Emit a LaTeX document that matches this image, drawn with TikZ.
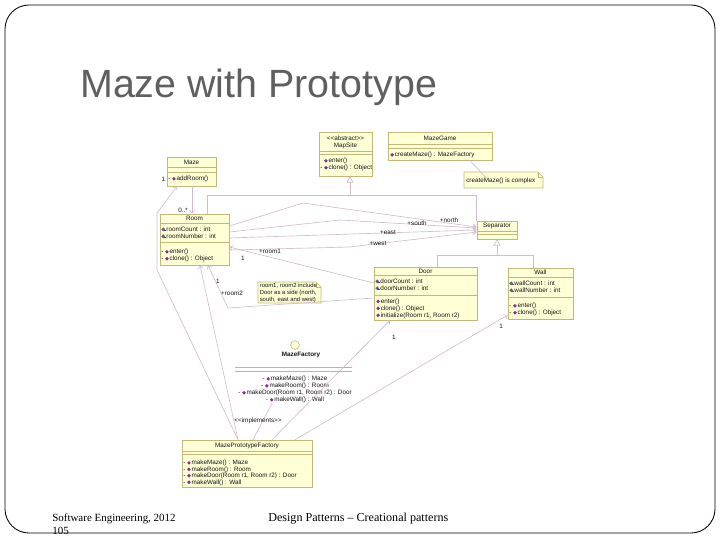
\documentclass[tikz,border=0pt]{standalone}
\usepackage{fontspec}
\setmainfont{Liberation Serif}
\newfontfamily\umlfont{Liberation Sans}
\usetikzlibrary{arrows.meta,positioning,fit}
\definecolor{ClsFill}{HTML}{FFFFD6}
\definecolor{ClsLine}{HTML}{C4B878}
\definecolor{Wire}{HTML}{D2BCCB}
\definecolor{OpPurple}{HTML}{8E2A8E}
\definecolor{AttBlue}{HTML}{4A6A9A}
\definecolor{Ink}{HTML}{141414}
\definecolor{TitleGray}{HTML}{5F5F5F}
\newcommand{\umlsz}{\fontsize{4.5}{4.96}\selectfont}
\newcommand{\opi}{\tikz[baseline=0pt,x=1pt,y=1pt]{\fill[OpPurple] (0,1.3) -- (1.3,2.6) -- (2.6,1.3) -- (1.3,0) -- cycle;}\hspace{0.6pt}}
\newcommand{\ati}{\tikz[baseline=0pt,x=1pt,y=1pt]{\fill[AttBlue] (0,1.4) -- (1.4,2.8) -- (2.8,1.4) -- (1.4,0) -- cycle;
  \fill[OpPurple] (1.8,0.1) rectangle (3.1,1.1);}\hspace{0.6pt}}

\begin{document}
\begin{tikzpicture}[x=0.025cm,y=-0.025cm,
  cls/.style={draw=ClsLine,fill=ClsFill,inner sep=0pt,line width=0.4pt},
  sep/.style={ClsLine,line width=0.4pt},
  txt/.style={font=\umlfont\umlsz,inner sep=0pt,anchor=west,align=left,text=Ink},
  nm/.style={txt,anchor=center,align=center},
  lbl/.style={txt,anchor=center},
  wire/.style={Wire,line width=0.45pt},
  nav/.style={wire,-{Straight Barb[length=2.2pt,width=3.6pt]}},
  gen/.style={wire,-{Triangle[open,length=4.5pt,width=5pt,fill=white]}}]
  \useasboundingbox (0,0) rectangle (720,540);
  \fill[white] (0,0) rectangle (720,540);

  % slide title and footer
  \node[font=\umlfont\fontsize{28}{32}\selectfont,text=TitleGray,anchor=base west,inner sep=0pt]
    (title) at (80,97) {Maze with Prototype};
  \node[font=\fontsize{7.8}{10}\selectfont,anchor=base west,inner sep=0pt] (footA) at (52,521) {Software Engineering, 2012};
  \node[font=\fontsize{7.8}{10}\selectfont,anchor=base west,inner sep=0pt] (footB) at (52,534) {105};
  \node[font=\fontsize{8.6}{10}\selectfont,anchor=base west,inner sep=0pt] (footC) at (268,521) {Design Patterns -- Creational patterns};
  \draw[black,line width=0.6pt,rounded corners=0.6cm] (5,5) rectangle (715,533);

  % classes
  \node[cls,fit={(167,157)(216,186)}] (maze) {};
  \draw[sep] (maze.west |- 0,167) -- (maze.east |- 0,167) (maze.west |- 0,172) -- (maze.east |- 0,172);
  \node[nm] (mazeN) at (191.5,162) {Maze};
  \node[txt] (mazeM) at (168,179) {- \opi addRoom()};

  \node[cls,fit={(160,214)(229,265)}] (room) {};
  \draw[sep] (room.west |- 0,223) -- (room.east |- 0,223) (room.west |- 0,242) -- (room.east |- 0,242);
  \node[nm] (roomN) at (194.5,218.5) {Room};
  \node[txt] (roomA) at (161,232.5) {\ati roomCount : int\\\ati roomNumber : int};
  \node[txt] (roomM) at (161,255.5) {- \opi enter()\\- \opi clone() : Object};

  \node[cls,fit={(319,132)(372,176)}] (mapsite) {};
  \draw[sep] (mapsite.west |- 0,151) -- (mapsite.east |- 0,151) (mapsite.west |- 0,154) -- (mapsite.east |- 0,154);
  \node[nm] (mapsiteN) at (345.5,142.5) {\textless\textless abstract\textgreater\textgreater\\MapSite};
  \node[txt] (mapsiteM) at (320,164.5) {\phantom{- }\opi enter()\\- \opi clone() : Object};

  \node[cls,fit={(388,132)(492,160)}] (mazegame) {};
  \draw[sep] (mazegame.west |- 0,144) -- (mazegame.east |- 0,144) (mazegame.west |- 0,148) -- (mazegame.east |- 0,148);
  \node[nm] (mazegameN) at (440,138.5) {MazeGame};
  \node[txt] (mazegameM) at (390,155) {\opi createMaze() : MazeFactory};

  \filldraw[cls] (464,172) -- (538,172) -- (543,177) -- (543,188) -- (464,188) -- cycle;
  \draw[sep] (538,172) -- (538,177) -- (543,177);
  \node[txt] (complex) at (466,181) {createMaze() is complex};

  \node[cls,fit={(477,221)(517,239)}] (separator) {};
  \draw[sep] (separator.west |- 0,231) -- (separator.east |- 0,231) (separator.west |- 0,234) -- (separator.east |- 0,234);
  \node[nm] (separatorN) at (497,226) {Separator};

  \node[cls,fit={(374,267)(477,320)}] (door) {};
  \draw[sep] (door.west |- 0,275) -- (door.east |- 0,275) (door.west |- 0,295) -- (door.east |- 0,295);
  \node[nm] (doorN) at (425.5,271) {Door};
  \node[txt] (doorA) at (375,284.5) {\ati doorCount : int\\\ati doorNumber : int};
  \node[txt] (doorM) at (376,308.5) {\opi enter()\\\opi clone() : Object\\\opi initialize(Room r1, Room r2)};

  \node[cls,fit={(508,268)(573,319)}] (wall) {};
  \draw[sep] (wall.west |- 0,277) -- (wall.east |- 0,277) (wall.west |- 0,297) -- (wall.east |- 0,297);
  \node[nm] (wallN) at (540.5,272.5) {Wall};
  \node[txt] (wallA) at (509,286.5) {\ati wallCount : int\\\ati wallNumber : int};
  \node[txt] (wallM) at (509,309.5) {- \opi enter()\\- \opi clone() : Object};

  \filldraw[cls] (258,282) -- (316,282) -- (321,287) -- (321,303) -- (258,303) -- cycle;
  \draw[sep] (316,282) -- (316,287) -- (321,287);
  \node[txt,font=\umlfont\fontsize{4.2}{4.96}\selectfont] (sides) at (259.5,292.5) {room1, room2 include\\Door as a side (north,\\south, east and west)};

  % interface
  \node[circle,draw=ClsLine,fill=ClsFill,inner sep=0pt,minimum size=0.22cm] (lollipop) at (295,345) {};
  \node[nm,font=\umlfont\umlsz\bfseries] (mazefactory) at (301,355) {MazeFactory};
  \draw[sep] (235,367) -- (352,367) (235,371) -- (352,371);
  \node[nm] (mazefactoryM) at (295,389.5) {- \opi makeMaze() : Maze\\- \opi makeRoom() : Room\\- \opi makeDoor(Room r1, Room r2) : Door\\- \opi makeWall() : Wall};

  \node[cls,fit={(182,440)(312,487)}] (mpf) {};
  \draw[sep] (mpf.west |- 0,451) -- (mpf.east |- 0,451) (mpf.west |- 0,454) -- (mpf.east |- 0,454);
  \node[nm] (mpfN) at (247,446) {MazePrototypeFactory};
  \node[txt,font=\umlfont\fontsize{4.5}{4.6}\selectfont] (mpfM) at (183,472.75)
    {- \opi makeMaze() : Maze\\- \opi makeRoom() : Room\\- \opi makeDoor(Room r1, Room r2) : Door\\- \opi makeWall() : Wall};

  % generalizations
  \draw[gen] (room.north -| 207,0) |- (350,195) -- (mapsite.south -| 350,0);
  \draw[wire] (separator.north west) |- (350,195);
  \draw[gen] (door.north -| 437,0) |- (497,255) -- (separator.south);
  \draw[wire] (wall.north -| 533,0) |- (497,255);

  % associations
  \draw[nav] (maze.south -| 192,0) -- (room.north -| 192,0);
  \draw[nav] (room.east |- 0,226) -- (303,203) -- (separator.west |- 0,227);
  \draw[nav] (room.east |- 0,232) -- (340,220) -- (separator.west |- 0,228);
  \draw[nav] (room.east |- 0,238) -- (separator.west |- 0,230);
  \draw[nav] (room.east |- 0,250) -- (350,247) -- (separator.west |- 0,232);
  \draw[nav] (door.west |- 0,283) -- (room.east |- 0,247);
  \draw[nav] (door.west |- 0,298) -- (228,308) -- (room.south -| 208,0);
  \draw[nav] (mpf.north -| 238,0) -- (157,270) -- (157,213) -- (maze.south -| 177,0);
  \draw[nav] (mpf.north -| 238,0) -- (room.south -| 200,0);
  \draw[nav] (mpf.north -| 272,0) -- (door.south -| 390,0);
  \draw[nav] (mpf.north -| 295,0) -- (wall.west |- 0,315);
  \draw[wire] (mpf.north -| 253,0) -- (mazefactoryM.south -| 272,0);
  \draw[wire] (mazegame.south -| 470,0) -- (complex.north -| 486,0);

  % connector labels
  \node[lbl] (mult1) at (163.5,179) {1};
  \node[lbl] (multM) at (183,210) {0..*};
  \node[lbl] (north) at (449,220) {+north};
  \node[lbl] (south) at (417,223) {+south};
  \node[lbl] (east) at (388,232) {+east};
  \node[lbl] (west) at (378,243) {+west};
  \node[lbl] (room1) at (270,251) {+room1};
  \node[lbl] (room1m) at (243,258) {1};
  \node[lbl] (room2m) at (218,281) {1};
  \node[lbl] (room2) at (232,293) {+room2};
  \node[lbl] (doorm) at (394,337) {1};
  \node[lbl] (wallm) at (501,326) {1};
  \node[lbl] (impl) at (258,421) {\textless\textless implements\textgreater\textgreater};
\end{tikzpicture}
\end{document}
